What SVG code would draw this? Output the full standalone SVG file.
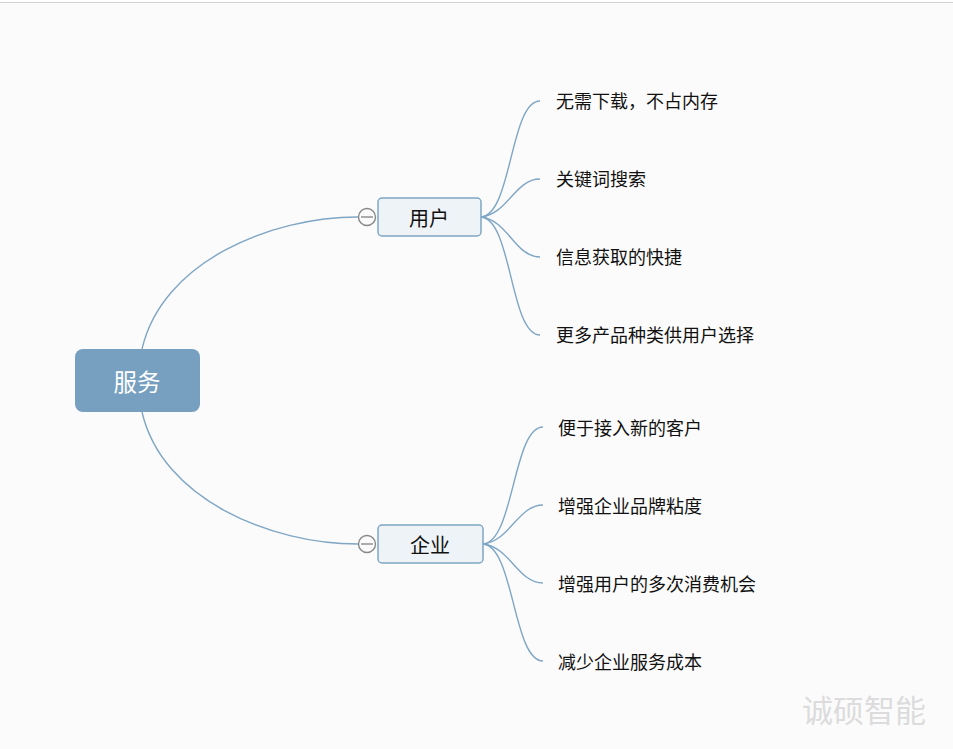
<svg xmlns="http://www.w3.org/2000/svg" width="953" height="749" viewBox="0 0 953 749">
<style>
.bg{fill:#fbfbfb}
.conn path{fill:none;stroke:#7fa6c4;stroke-width:1.4}
.sub rect{fill:#eef3f7;stroke:#7fa6c4;stroke-width:1.5}
.sub text{font-family:"Noto Sans CJK SC",sans-serif;font-size:20px;fill:#111;text-anchor:middle;dominant-baseline:central}
.leaf text{font-family:"Noto Sans CJK SC",sans-serif;font-size:18px;fill:#111;dominant-baseline:central}
.tog circle{fill:#fbfbfb;stroke:#888;stroke-width:1.4}
.tog line{stroke:#888;stroke-width:1.4}
</style>
<rect x="0" y="0" width="953" height="749" fill="#ffffff"/>
<rect class="bg" x="0" y="3" width="953" height="746"/>
<line x1="0" y1="2.5" x2="953" y2="2.5" stroke="#d4d4d4" stroke-width="1"/>
<g id="connectors" class="conn">
<path d="M142,349 C162,262 270,217 358,217"/>
<path d="M142,412 C162,499 270,544 358,544"/>
<path d="M481,217 C512,215 510,101 540,101"/>
<path d="M481,217 C508,214 515,179 540,179"/>
<path d="M481,217 C508,220 515,257 540,257"/>
<path d="M481,217 C512,219 510,335 540,335"/>
<path d="M483,544 C514,542 513,427 543,427"/>
<path d="M483,544 C510,541 518,505 543,505"/>
<path d="M483,544 C510,547 518,583 543,583"/>
<path d="M483,544 C514,546 513,661 543,661"/>
</g>
<g id="root">
<rect x="75" y="349" width="125" height="63" rx="8" fill="#769fc0"/>
<text x="137" y="381" font-family="'Noto Sans CJK SC',sans-serif" font-size="23.5" fill="#ffffff" text-anchor="middle" dominant-baseline="central">服务</text>
</g>
<g id="node-yonghu" class="sub">
<rect x="378" y="198" width="103" height="38" rx="4"/>
<text x="429" y="217">用户</text>
</g>
<g id="toggle-yonghu" class="tog">
<circle cx="367" cy="217" r="8.5"/>
<line x1="361" y1="217" x2="373" y2="217"/>
</g>
<g id="node-qiye" class="sub">
<rect x="378" y="525" width="105" height="38" rx="4"/>
<text x="430" y="544">企业</text>
</g>
<g id="toggle-qiye" class="tog">
<circle cx="367" cy="544" r="8.5"/>
<line x1="361" y1="544" x2="373" y2="544"/>
</g>
<g id="leaf-1" class="leaf"><text x="556" y="100">无需下载，不占内存</text></g>
<g id="leaf-2" class="leaf"><text x="556" y="178">关键词搜索</text></g>
<g id="leaf-3" class="leaf"><text x="556" y="256">信息获取的快捷</text></g>
<g id="leaf-4" class="leaf"><text x="556" y="334">更多产品种类供用户选择</text></g>
<g id="leaf-5" class="leaf"><text x="558" y="427">便于接入新的客户</text></g>
<g id="leaf-6" class="leaf"><text x="558" y="505">增强企业品牌粘度</text></g>
<g id="leaf-7" class="leaf"><text x="558" y="583">增强用户的多次消费机会</text></g>
<g id="leaf-8" class="leaf"><text x="558" y="661">减少企业服务成本</text></g>
<text x="802" y="708" font-family="'Noto Sans CJK SC',sans-serif" font-size="31" fill="#dcdcdc" dominant-baseline="central">诚硕智能</text>
</svg>
